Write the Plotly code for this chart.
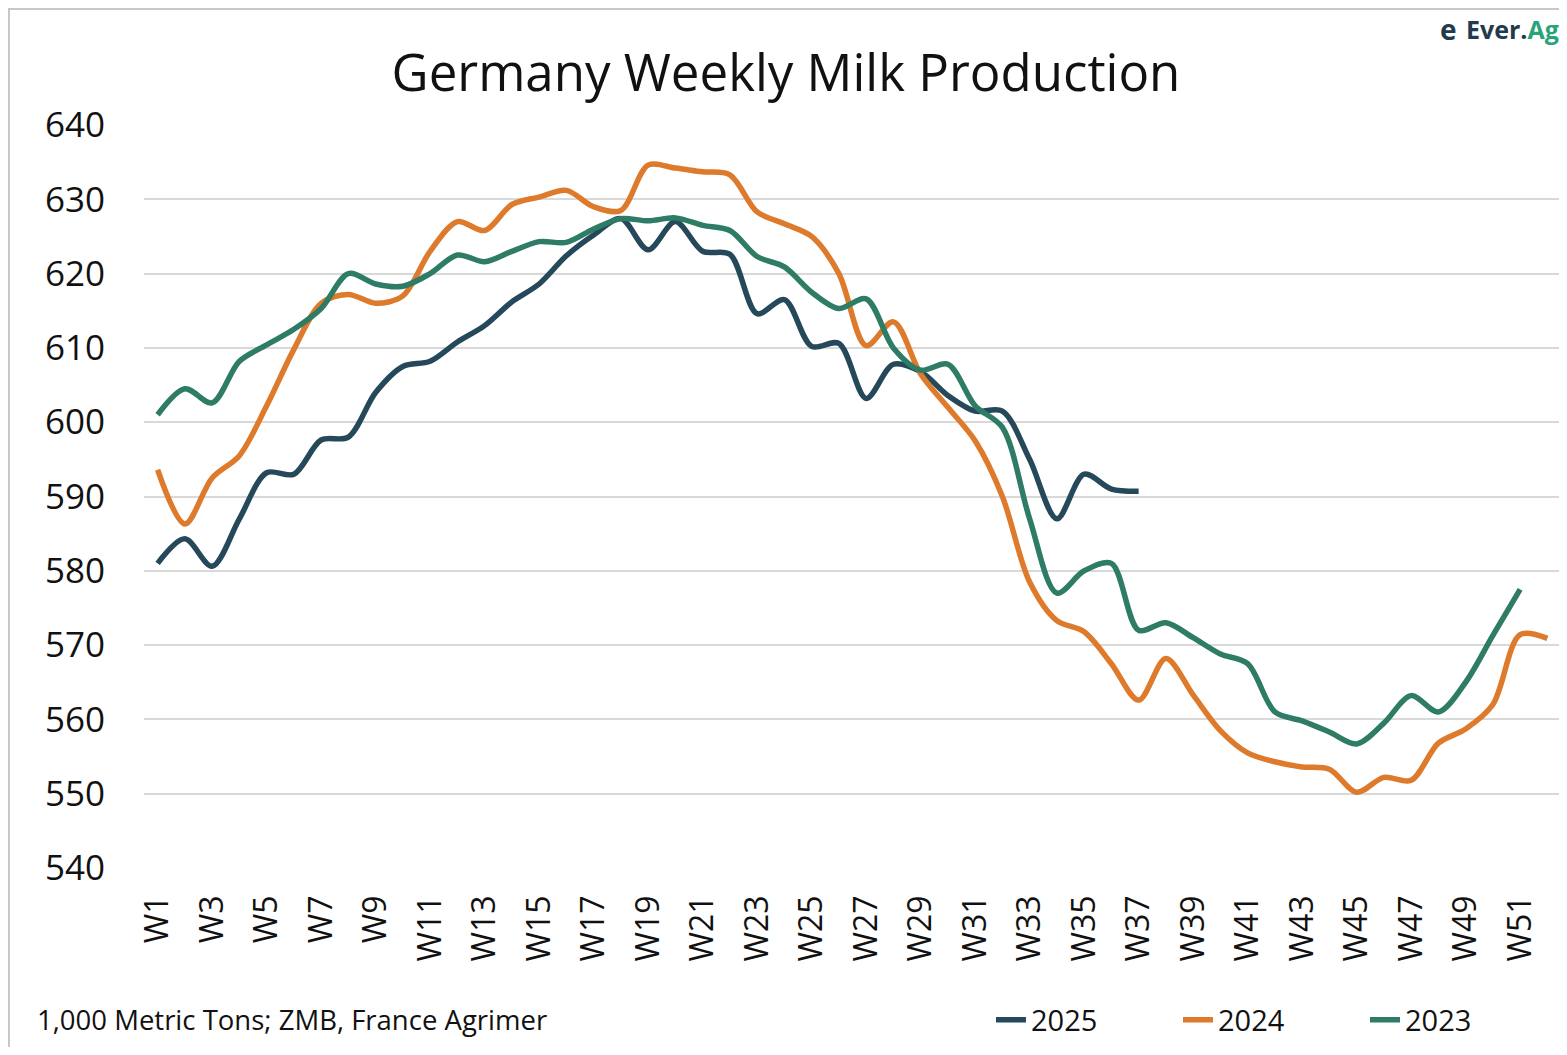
import plotly.graph_objects as go

weeks = [f"W{i}" for i in range(1, 53)]
tick_labels = [f"W{i}" for i in range(1, 53, 2)]

y2025 = [581.0, 584.3, 580.6, 587.0, 593.2, 593.0, 597.6, 598.0, 604.0, 607.5,
         608.2, 610.8, 613.0, 616.2, 618.6, 622.4, 625.2, 627.4, 623.2, 627.0,
         623.0, 622.6, 614.6, 616.5, 610.2, 610.6, 603.2, 607.8, 606.8, 603.6,
         601.5, 601.5, 595.0, 587.0, 593.0, 591.0, 590.7]

y2024 = [593.6, 586.3, 592.5, 595.5, 602.2, 609.8, 616.0, 617.2, 616.0, 617.0,
         623.0, 627.0, 625.8, 629.3, 630.3, 631.2, 629.0, 628.5, 634.6, 634.2,
         633.7, 633.3, 628.3, 626.7, 625.0, 620.0, 610.3, 613.5, 606.5, 602.0,
         597.5, 590.0, 578.5, 573.3, 571.8, 567.5, 562.6, 568.2, 563.3, 558.5,
         555.5, 554.3, 553.6, 553.3, 550.2, 552.2, 551.8, 556.8, 558.7, 562.0,
         571.4, 570.9]

y2023 = [601.0, 604.5, 602.6, 608.2, 610.4, 612.5, 615.3, 620.0, 618.6, 618.3,
         620.0, 622.5, 621.6, 623.0, 624.3, 624.2, 626.0, 627.4, 627.1, 627.5,
         626.5, 625.8, 622.3, 620.9, 617.5, 615.3, 616.6, 610.0, 607.0, 607.8,
         602.2, 599.3, 587.0, 577.0, 580.0, 581.0, 572.0, 573.0, 571.0, 568.8,
         567.5, 561.0, 559.8, 558.3, 556.7, 559.5, 563.2, 561.0, 565.0, 571.3,
         577.5]

series = [
    ("2025", y2025, "#25485A"),
    ("2024", y2024, "#DD7A2C"),
    ("2023", y2023, "#2E7B66"),
]

FONT = "Open Sans"

fig = go.Figure()
for name, vals, color in series:
    fig.add_trace(go.Scatter(
        x=weeks[:len(vals)], y=vals, name=name, mode="lines",
        line=dict(color=color, width=5.5, shape="spline", smoothing=0.9),
    ))

W, H = 1553, 1039
L, R, T, B = 136, 0, 117, 179
pw, ph = W - L - R, H - T - B

def px_x(fx):
    return (fx - L) / pw

def px_y(fy):
    return (H - B - fy) / ph

fig.update_layout(
    width=W, height=H,
    margin=dict(l=L, r=R, t=T, b=B, autoexpand=False),
    paper_bgcolor="white", plot_bgcolor="white",
    font=dict(family=FONT, color="#1a1a1a"),
    title=dict(text="Germany Weekly Milk Production", x=(786 - 8) / W, xref="container",
               xanchor="center", y=1 - 65 / H, yref="container", yanchor="middle",
               font=dict(size=51, family=FONT, color="#111111")),
    xaxis=dict(type="category", categoryorder="array", categoryarray=weeks,
               range=[-0.5, 51.5], tickmode="array", tickvals=tick_labels,
               ticktext=tick_labels, tickangle=-90, showgrid=False,
               showline=False, zeroline=False, ticks="",
               tickfont=dict(size=32, family=FONT, color="#111111"),
               ticklabelstandoff=20),
    yaxis=dict(range=[540, 640], dtick=10, tick0=540, showgrid=True,
               gridcolor="#d9d9d9", gridwidth=2, zeroline=False, showline=False,
               ticks="", tickfont=dict(size=35, family=FONT, color="#111111"),
               ticklabelstandoff=38),
    legend=dict(orientation="h", xref="container", yref="container",
                x=(991 - 8) / W, xanchor="left",
                y=1 - (1012) / H, yanchor="middle",
                font=dict(size=29, family=FONT, color="#111111"),
                entrywidth=142, entrywidthmode="pixels",
                itemwidth=30, bgcolor="rgba(0,0,0,0)"),
    showlegend=True,
)

fig.add_annotation(text="1,000 Metric Tons; ZMB, France Agrimer",
                   xref="paper", yref="paper", x=px_x(27), y=px_y(1012),
                   xanchor="left", yanchor="middle", showarrow=False,
                   font=dict(size=27.5, family=FONT, color="#111111"))

fig.add_annotation(text="<b><span style='color:#1f3b4d'>Ever.</span><span style='color:#2aa37a'>Ag</span></b>",
                   xref="paper", yref="paper", x=px_x(1456), y=px_y(21),
                   xanchor="left", yanchor="middle", showarrow=False,
                   font=dict(size=25, family=FONT))
fig.add_annotation(text="<b>e</b>", xref="paper", yref="paper",
                   x=px_x(1440), y=px_y(21), xanchor="center", yanchor="middle",
                   showarrow=False, font=dict(size=28, family=FONT, color="#1f3b4d"))

# light frame along top and left
fig.add_shape(type="line", xref="paper", yref="paper",
              x0=px_x(0), x1=px_x(W), y0=px_y(1), y1=px_y(1),
              line=dict(color="#c8c8c8", width=2))
fig.add_shape(type="line", xref="paper", yref="paper",
              x0=px_x(1), x1=px_x(1), y0=px_y(0), y1=px_y(H),
              line=dict(color="#c8c8c8", width=2))

fig.write_html("out.html")
